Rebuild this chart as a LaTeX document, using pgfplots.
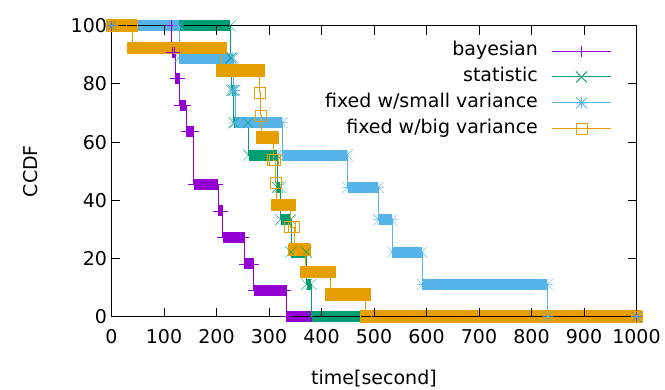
\documentclass[border=0pt]{standalone}
\usepackage{fontspec}
\setmainfont{DejaVu Sans}
\usepackage{pgfplots}
\usepackage{pgfplotstable}
\pgfplotsset{compat=1.18}
\definecolor{cP}{HTML}{9400D3}
\definecolor{cG}{HTML}{009E73}
\definecolor{cB}{HTML}{56B4E9}
\definecolor{cO}{HTML}{E69F00}

\pgfdeclareplotmark{gpx}{%
  \pgfpathmoveto{\pgfqpoint{-\pgfplotmarksize}{-\pgfplotmarksize}}%
  \pgfpathlineto{\pgfqpoint{\pgfplotmarksize}{\pgfplotmarksize}}%
  \pgfpathmoveto{\pgfqpoint{-\pgfplotmarksize}{\pgfplotmarksize}}%
  \pgfpathlineto{\pgfqpoint{\pgfplotmarksize}{-\pgfplotmarksize}}%
  \pgfusepathqstroke}
\pgfdeclareplotmark{gpstar}{%
  \pgfpathmoveto{\pgfqpoint{-\pgfplotmarksize}{-\pgfplotmarksize}}%
  \pgfpathlineto{\pgfqpoint{\pgfplotmarksize}{\pgfplotmarksize}}%
  \pgfpathmoveto{\pgfqpoint{-\pgfplotmarksize}{\pgfplotmarksize}}%
  \pgfpathlineto{\pgfqpoint{\pgfplotmarksize}{-\pgfplotmarksize}}%
  \pgfpathmoveto{\pgfqpoint{-\pgfplotmarksize}{0pt}}%
  \pgfpathlineto{\pgfqpoint{\pgfplotmarksize}{0pt}}%
  \pgfpathmoveto{\pgfqpoint{0pt}{-\pgfplotmarksize}}%
  \pgfpathlineto{\pgfqpoint{0pt}{\pgfplotmarksize}}%
  \pgfusepathqstroke}

% plateaus of each CCDF step function: first second, last second, level
\pgfplotstableread{
t0 t1 y
0 114 100
115 120 90.909
121 129 81.818
130 141 72.727
142 156 63.636
157 202 45.455
203 211 36.364
212 252 27.273
253 270 18.182
271 332 9.091
333 1000 0
}\bay
\pgfplotstableread{
t0 t1 y
0 226 100
227 228 88.889
229 232 77.778
233 260 66.667
261 315 55.556
316 321 44.444
322 341 33.333
342 371 22.222
372 380 11.111
381 1000 0
}\stat
\pgfplotstableread{
t0 t1 y
0 128 100
129 231 88.889
232 235 77.778
236 325 66.667
326 449 55.556
450 508 44.444
509 534 33.333
535 591 22.222
592 830 11.111
831 1000 0
}\small
\pgfplotstableread{
t0 t1 y
0 39 100
40 208 92.308
209 281 84.615
282 283 76.923
284 285 69.231
286 307 61.538
308 311 53.846
312 313 46.154
314 339 38.462
340 347 30.769
348 368 23.077
369 416 15.385
417 483 7.692
484 1000 0
}\big

\begin{document}
\begin{tikzpicture}
\begin{axis}[
  scale only axis, width=525pt, height=291pt,
  xmin=0, xmax=1000, ymin=0, ymax=100,
  xtick={0,100,...,1000}, ytick={0,20,...,100},
  tick align=inside, major tick length=9pt,
  axis on top, clip=false,
  axis line style={line width=0.8pt},
  tick style={line width=0.8pt, black},
  font=\fontsize{19}{23}\selectfont,
  /pgf/number format/assume math mode=true,
  /pgf/number format/1000 sep={},
  xticklabel style={yshift=-9pt},
  yticklabel style={xshift=-1pt},
  xlabel={time[second]}, ylabel={CCDF},
  xlabel style={at={(axis description cs:0.5,-0.211)}, anchor=center},
  ylabel style={at={(axis description cs:-0.155,0.5)}, anchor=center},
  legend style={draw=none, fill=none, at={(1,1)}, anchor=north east,
    xshift=-24.8pt, yshift=-15.9pt, inner sep=0pt, row sep=7.4pt,
    nodes={inner sep=0pt, text height=14pt, text depth=4.5pt},
    column sep=13.7pt, font=\fontsize{19}{23}\selectfont},
  legend cell align=right,
  legend plot pos=right,
  legend image code/.code={%
    \draw[#1,mark=none] (0pt,0pt) -- (59pt,0pt);
    \draw[#1,only marks] plot coordinates {(29.5pt,0pt)};},
  every mark/.append style={line width=1.2pt},
]
% ---- bayesian
\addplot[cP, line width=0.9pt, const plot, forget plot] table[x=t0,y=y] {\bay};
\addplot[draw=none, mark=none, forget plot,
  error bars/.cd, x dir=both, x explicit, error mark=none,
  error bar style={draw=cP, line width=11pt}]
  table[x expr={(\thisrow{t0}+\thisrow{t1})/2}, y=y,
        x error expr={(\thisrow{t1}-\thisrow{t0})/2}] {\bay};
\addplot[cP, only marks, mark=+, mark size=5.5pt, forget plot] table[x=t0,y=y] {\bay};
\addplot[cP, only marks, mark=+, mark size=5.5pt, forget plot] table[x=t1,y=y] {\bay};
% ---- statistic
\addplot[cG, line width=0.9pt, const plot, forget plot] table[x=t0,y=y] {\stat};
\addplot[draw=none, mark=none, forget plot,
  error bars/.cd, x dir=both, x explicit, error mark=none,
  error bar style={draw=cG, line width=11pt}]
  table[x expr={(\thisrow{t0}+\thisrow{t1})/2}, y=y,
        x error expr={(\thisrow{t1}-\thisrow{t0})/2}] {\stat};
\addplot[cG, only marks, mark=gpx, mark size=5.5pt, forget plot] table[x=t0,y=y] {\stat};
\addplot[cG, only marks, mark=gpx, mark size=5.5pt, forget plot] table[x=t1,y=y] {\stat};
% ---- fixed small variance
\addplot[cB, line width=0.9pt, const plot, forget plot] table[x=t0,y=y] {\small};
\addplot[draw=none, mark=none, forget plot,
  error bars/.cd, x dir=both, x explicit, error mark=none,
  error bar style={draw=cB, line width=11pt}]
  table[x expr={(\thisrow{t0}+\thisrow{t1})/2}, y=y,
        x error expr={(\thisrow{t1}-\thisrow{t0})/2}] {\small};
\addplot[cB, only marks, mark=gpstar, mark size=5.5pt, forget plot] table[x=t0,y=y] {\small};
\addplot[cB, only marks, mark=gpstar, mark size=5.5pt, forget plot] table[x=t1,y=y] {\small};
% ---- fixed big variance
\addplot[cO, line width=0.9pt, const plot, forget plot] table[x=t0,y=y] {\big};
\addplot[draw=none, mark=none, forget plot,
  error bars/.cd, x dir=both, x explicit, error mark=none,
  error bar style={draw=cO, line width=12.5pt}]
  table[x expr={(\thisrow{t0}+\thisrow{t1})/2}, y=y,
        x error expr={(\thisrow{t1}-\thisrow{t0}>=20)*((\thisrow{t1}-\thisrow{t0})/2+10.5)}] {\big};
\addplot[cO, only marks, mark=square, mark size=5.5pt, forget plot] table[x=t0,y=y] {\big};
\addplot[cO, only marks, mark=square, mark size=5.5pt, forget plot] table[x=t1,y=y] {\big};
% ---- legend
\addlegendimage{cP, line width=0.9pt, mark=+, mark size=5.5pt}
\addlegendentry{bayesian}
\addlegendimage{cG, line width=0.9pt, mark=gpx, mark size=5.5pt}
\addlegendentry{statistic}
\addlegendimage{cB, line width=0.9pt, mark=gpstar, mark size=5.5pt}
\addlegendentry{fixed w/small variance}
\addlegendimage{cO, line width=0.9pt, mark=square, mark size=5.5pt}
\addlegendentry{fixed w/big variance}
\end{axis}
\pgfresetboundingbox
\path[use as bounding box] (-111.5pt,-73.3pt) rectangle (553.5pt,316.7pt);
\end{tikzpicture}
\end{document}
